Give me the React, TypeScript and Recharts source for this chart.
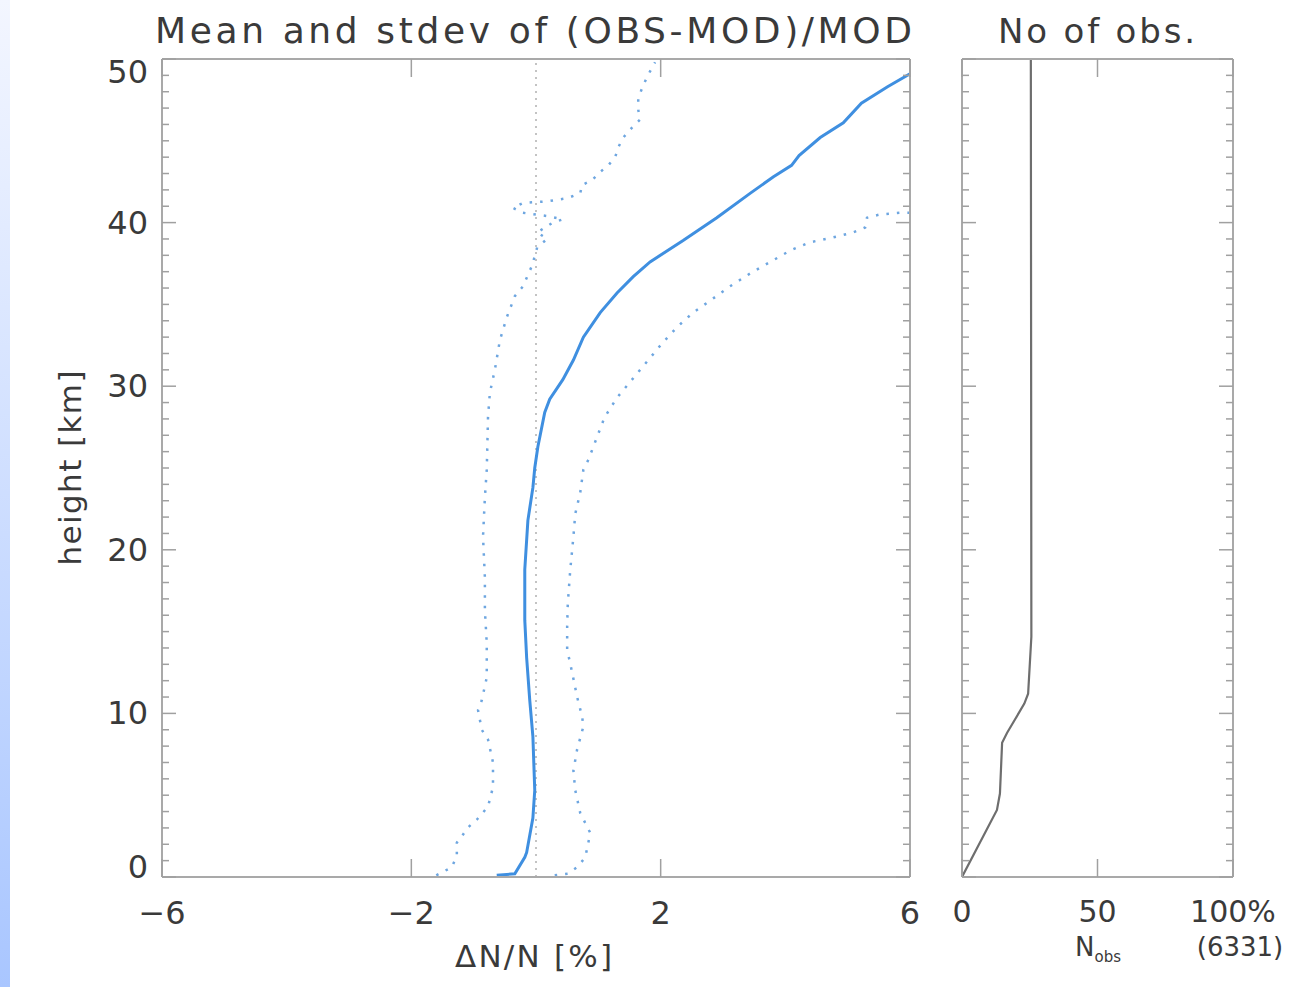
import React from 'react';
import { LineChart, Line, XAxis, YAxis, ReferenceLine } from 'recharts';

const FONT = '"DejaVu Sans", "Open Sans", sans-serif';
const TEXT = '#3a3a3a';
const FRAME = '#a9a9a9';
const MEAN_COLOR = '#3f8fe0';
const STD_COLOR = '#6ea6e0';
const NOBS_COLOR = '#6e6e6e';

// axis ticks
const devTicks = [-6, -2, 2, 6];
const heightMajorTicks = [0, 10, 20, 30, 40, 50];
const heightMinorTicks = [
  0, 1, 2, 3, 4, 5, 6, 7, 8, 9, 10, 11, 12, 13, 14, 15, 16, 17, 18, 19, 20, 21, 22, 23, 24, 25,
  26, 27, 28, 29, 30, 31, 32, 33, 34, 35, 36, 37, 38, 39, 40, 41, 42, 43, 44, 45, 46, 47, 48, 49, 50,
];
const nobsTicks = [0, 50, 100];
const nobsTickLabels = ['0', '50', '100%'];

// mean of (OBS-MOD)/MOD [%] vs height [km]
const meanHeights = [0.1, 0.2, 1.2, 1.5, 3.6, 5.3, 8.6, 10.8, 13.4, 15.7, 18.8, 21.8, 23.8, 25.0, 26.3, 28.4, 29.2, 30.4, 31.6, 33.0, 34.5, 35.7, 36.7, 37.6, 38.9, 40.3, 41.8, 42.8, 43.5, 44.1, 45.2, 46.1, 47.3, 48.3, 49.1];
const meanValues = [-0.63, -0.34, -0.18, -0.15, -0.05, -0.02, -0.05, -0.1, -0.15, -0.18, -0.18, -0.13, -0.05, -0.02, 0.03, 0.14, 0.22, 0.43, 0.6, 0.76, 1.03, 1.3, 1.56, 1.83, 2.36, 2.9, 3.44, 3.81, 4.1, 4.22, 4.56, 4.93, 5.22, 5.64, 6.0];

// mean - stdev
const lowerHeights = [0.1, 0.6, 1.3, 2.1, 2.6, 3.0, 3.5, 4.3, 5.5, 7.0, 8.4, 9.0, 10.2, 10.8, 12.2, 14.3, 16.3, 18.3, 20.8, 23.2, 24.9, 28.1, 29.6, 31.0, 32.8, 34.2, 35.5, 36.1, 37.4, 38.5, 39.0, 39.4, 40.0, 40.2, 40.4, 40.6, 40.9, 41.2, 41.3, 41.5, 41.8, 42.3, 42.6, 43.1, 43.5, 44.0, 44.6, 45.2, 45.8, 46.3, 46.9, 47.6, 48.2, 48.9, 49.8];
const lowerValues = [-1.6, -1.35, -1.27, -1.27, -1.17, -1.1, -0.95, -0.77, -0.69, -0.69, -0.77, -0.87, -0.93, -0.87, -0.79, -0.79, -0.82, -0.82, -0.85, -0.82, -0.79, -0.77, -0.74, -0.66, -0.58, -0.47, -0.34, -0.21, -0.06, 0.02, 0.18, 0.02, 0.27, 0.43, 0.18, -0.21, -0.37, -0.21, 0.18, 0.51, 0.71, 0.74, 0.9, 1.03, 1.16, 1.27, 1.32, 1.4, 1.54, 1.67, 1.64, 1.64, 1.7, 1.78, 1.91];

// mean + stdev
const upperHeights = [0.1, 0.2, 0.6, 1.2, 2.1, 2.7, 3.3, 3.9, 5.3, 6.5, 7.8, 9.2, 9.8, 11.0, 12.5, 13.9, 15.3, 16.7, 18.8, 20.8, 22.2, 23.5, 24.9, 25.5, 26.9, 28.1, 29.3, 30.4, 31.5, 32.6, 33.6, 34.5, 35.3, 36.1, 36.9, 37.6, 38.3, 38.8, 39.1, 39.4, 39.7, 40.3, 40.5, 40.6, 40.6];
const upperValues = [0.3, 0.51, 0.66, 0.79, 0.84, 0.87, 0.79, 0.71, 0.63, 0.6, 0.66, 0.76, 0.74, 0.66, 0.58, 0.5, 0.5, 0.51, 0.55, 0.6, 0.63, 0.71, 0.76, 0.84, 0.98, 1.1, 1.3, 1.54, 1.78, 2.02, 2.26, 2.52, 2.82, 3.11, 3.44, 3.76, 4.08, 4.4, 4.77, 5.09, 5.28, 5.31, 5.52, 5.84, 6.0];

// number of observations [% of 6331] vs height
const nobsHeights = [0, 4.1, 5.1, 8.2, 8.8, 10.6, 11.2, 14.7, 50];
const nobsValues = [0, 12.9, 14.0, 14.8, 16.6, 23.0, 24.4, 25.6, 25.4];

const toRows = (hs: number[], vs: number[]) => hs.map((h, i) => ({ h, x: vs[i] }));
const meanData = toRows(meanHeights, meanValues);
const lowerData = toRows(lowerHeights, lowerValues);
const upperData = toRows(upperHeights, upperValues);
const nobsData = toRows(nobsHeights, nobsValues);

const minus = (v: number) => (v < 0 ? '\u2212' + Math.abs(v) : String(v));

const TICK_COLOR = '#a0a0a0';
const Y_LABEL_GAP = 14;
const X_LABEL_GAP = 24;

// Y-axis tick: inward tick line (minor/major) plus optional label outside
const YTick = (props: any) => {
  const { x, y, payload, side, gap, showLabel } = props;
  const v = payload.value;
  const major = v % 10 === 0;
  const len = major ? 14 : 7;
  const ax = side === 'left' ? x + gap : x - gap;
  const x2 = side === 'left' ? ax + len : ax - len;
  const shift = v === 50 ? 13 : v === 0 ? -10 : 0;
  return (
    <g>
      <line x1={ax} x2={x2} y1={y} y2={y} stroke={TICK_COLOR} strokeWidth={1.5} />
      {showLabel && major && (
        <text x={x} y={y + shift} textAnchor="end" dominantBaseline="central" fontFamily={FONT} fontSize={32} fill={TEXT}>
          {v}
        </text>
      )}
    </g>
  );
};

// X-axis tick: inward tick line plus optional label below
const XTick = (props: any) => {
  const { x, y, payload, side, gap, labels, ticks } = props;
  const v = payload.value;
  const ay = side === 'bottom' ? y - gap : y + gap;
  const y2 = side === 'bottom' ? ay - 18 : ay + 18;
  const label = labels ? labels[ticks.indexOf(v)] : minus(v);
  return (
    <g>
      <line x1={x} x2={x} y1={ay} y2={y2} stroke={TICK_COLOR} strokeWidth={1.5} />
      {side === 'bottom' && (
        <text x={x} y={y} dy="0.71em" textAnchor="middle" fontFamily={FONT} fontSize={labels ? 30 : 32} fill={TEXT}>
          {label}
        </text>
      )}
    </g>
  );
};

const frameLine = { stroke: FRAME, strokeWidth: 2 };

const LeftPanel = () => (
  <LineChart width={930} height={987} margin={{ top: 58, right: 19, bottom: 70, left: 102 }}>
    <XAxis
      xAxisId={0}
      dataKey="x"
      type="number"
      domain={[-6, 6]}
      ticks={devTicks}
      interval={0}
      allowDataOverflow
      height={40}
      tickLine={false}
      tickSize={0}
      tickMargin={X_LABEL_GAP}
      axisLine={frameLine}
      tick={(p: any) => <XTick {...p} side="bottom" gap={X_LABEL_GAP} />}
    />
    <XAxis
      xAxisId="tp"
      dataKey="x"
      type="number"
      domain={[-6, 6]}
      ticks={devTicks}
      interval={0}
      allowDataOverflow
      orientation="top"
      height={1}
      tickLine={false}
      tickSize={0}
      tickMargin={0}
      axisLine={frameLine}
      tick={(p: any) => <XTick {...p} side="top" gap={0} />}
    />
    <YAxis
      yAxisId={0}
      type="number"
      domain={[0, 50]}
      ticks={heightMinorTicks}
      interval={0}
      allowDataOverflow
      width={60}
      tickLine={false}
      tickSize={0}
      tickMargin={Y_LABEL_GAP}
      axisLine={frameLine}
      tick={(p: any) => <YTick {...p} side="left" gap={Y_LABEL_GAP} showLabel />}
    />
    <YAxis
      yAxisId="r"
      type="number"
      domain={[0, 50]}
      ticks={heightMinorTicks}
      interval={0}
      allowDataOverflow
      orientation="right"
      width={1}
      tickLine={false}
      tickSize={0}
      tickMargin={0}
      axisLine={frameLine}
      tick={(p: any) => <YTick {...p} side="right" gap={0} />}
    />
    <ReferenceLine x={0} xAxisId={0} yAxisId={0} stroke="#b0b0b0" strokeWidth={1.5} strokeDasharray="2 5" />
    <Line data={lowerData} dataKey="h" xAxisId={0} yAxisId={0} type="linear" stroke={STD_COLOR} strokeWidth={2.5} strokeDasharray="2.5 8" dot={false} isAnimationActive={false} />
    <Line data={upperData} dataKey="h" xAxisId={0} yAxisId={0} type="linear" stroke={STD_COLOR} strokeWidth={2.5} strokeDasharray="2.5 8" dot={false} isAnimationActive={false} />
    <Line data={meanData} dataKey="h" xAxisId={0} yAxisId={0} type="linear" stroke={MEAN_COLOR} strokeWidth={3} dot={false} isAnimationActive={false} />
  </LineChart>
);

const RightPanel = () => (
  <LineChart width={352} height={987} margin={{ top: 58, right: 58, bottom: 70, left: 21 }}>
    <XAxis
      xAxisId={0}
      dataKey="x"
      type="number"
      domain={[0, 100]}
      ticks={nobsTicks}
      interval={0}
      allowDataOverflow
      height={40}
      tickLine={false}
      tickSize={0}
      tickMargin={X_LABEL_GAP}
      axisLine={frameLine}
      tick={(p: any) => <XTick {...p} side="bottom" gap={X_LABEL_GAP} labels={nobsTickLabels} ticks={nobsTicks} />}
    />
    <XAxis
      xAxisId="tp"
      dataKey="x"
      type="number"
      domain={[0, 100]}
      ticks={nobsTicks}
      interval={0}
      allowDataOverflow
      orientation="top"
      height={1}
      tickLine={false}
      tickSize={0}
      tickMargin={0}
      axisLine={frameLine}
      tick={(p: any) => <XTick {...p} side="top" gap={0} labels={nobsTickLabels} ticks={nobsTicks} />}
    />
    <YAxis
      yAxisId={0}
      type="number"
      domain={[0, 50]}
      ticks={heightMinorTicks}
      interval={0}
      allowDataOverflow
      width={1}
      tickLine={false}
      tickSize={0}
      tickMargin={0}
      axisLine={frameLine}
      tick={(p: any) => <YTick {...p} side="left" gap={0} />}
    />
    <YAxis
      yAxisId="r"
      type="number"
      domain={[0, 50]}
      ticks={heightMinorTicks}
      interval={0}
      allowDataOverflow
      orientation="right"
      width={1}
      tickLine={false}
      tickSize={0}
      tickMargin={0}
      axisLine={frameLine}
      tick={(p: any) => <YTick {...p} side="right" gap={0} />}
    />
    <Line data={nobsData} dataKey="h" xAxisId={0} yAxisId={0} type="linear" stroke={NOBS_COLOR} strokeWidth={2.2} dot={false} isAnimationActive={false} />
  </LineChart>
);

export default function App() {
  return (
    <div style={{ position: 'absolute', left: 0, top: 0, width: 1292, height: 987, background: '#ffffff', overflow: 'hidden' }}>
      <div
        style={{
          position: 'absolute',
          left: 0,
          top: 0,
          width: 10,
          height: 987,
          background: 'linear-gradient(to bottom, #f3f6ff, #a9c6ff)',
        }}
      />
      <div style={{ position: 'absolute', left: 0, top: 0 }}>
        <LeftPanel />
      </div>
      <div style={{ position: 'absolute', left: 940, top: 0 }}>
        <RightPanel />
      </div>
      <svg width={1292} height={987} style={{ position: 'absolute', left: 0, top: 0, pointerEvents: 'none' }}>
        <text x={155} y={43} fontFamily={FONT} fontSize={36} fill={TEXT} textLength={757} lengthAdjust="spacing">
          Mean and stdev of (OBS-MOD)/MOD
        </text>
        <text x={998} y={43} fontFamily={FONT} fontSize={34} fill={TEXT} textLength={197} lengthAdjust="spacing">
          No of obs.
        </text>
        <text x={455} y={967} fontFamily={FONT} fontSize={31} fill={TEXT} textLength={157} lengthAdjust="spacing">
          ΔN/N [%]
        </text>
        <text
          x={0}
          y={0}
          transform="translate(81 468) rotate(-90)"
          fontFamily={FONT}
          fontSize={31}
          fill={TEXT}
          textAnchor="middle"
          textLength={195}
          lengthAdjust="spacing"
        >
          height [km]
        </text>
        <text x={1098} y={956} fontFamily={FONT} fontSize={26} fill={TEXT} textAnchor="middle">
          N<tspan fontSize={15} dy={6}>obs</tspan>
        </text>
        <text x={1240} y={956} fontFamily={FONT} fontSize={26} fill={TEXT} textAnchor="middle">
          (6331)
        </text>
      </svg>
    </div>
  );
}
